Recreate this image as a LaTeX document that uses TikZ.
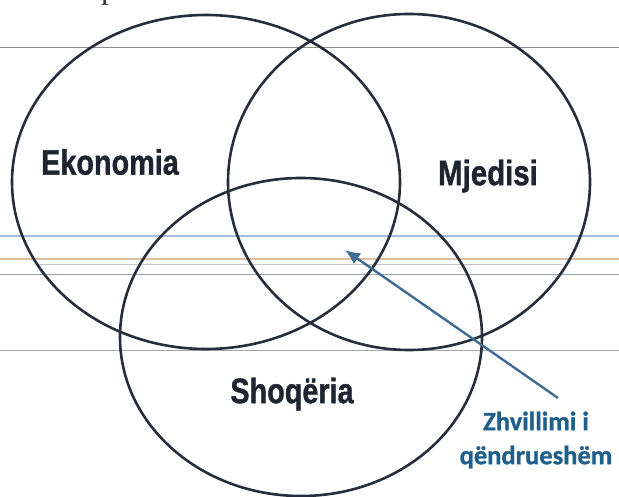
\documentclass[tikz,border=0pt]{standalone}
\usepackage{fontspec}
\usepackage{graphicx}
\setmainfont{Liberation Sans}
\newfontfamily\heavysans[BoldFeatures={FakeBold=1.2}]{Liberation Sans}
\newfontfamily\serifcut{Liberation Serif}
\newfontfamily\labfont[BoldFeatures={FakeBold=1.0}]{Carlito}
\usetikzlibrary{arrows.meta}
\definecolor{circ}{RGB}{38,46,60}
\definecolor{txtdark}{RGB}{30,37,48}
\definecolor{lblblue}{RGB}{31,95,140}
\definecolor{arrblue}{RGB}{62,108,148}
\definecolor{lgray}{RGB}{140,140,140}
\definecolor{lblue}{RGB}{160,188,222}
\definecolor{lorange}{RGB}{218,190,165}
\definecolor{lpink}{RGB}{205,196,196}
\definecolor{lslate}{RGB}{150,160,175}
\definecolor{lgray2}{RGB}{165,165,178}
\tikzset{
  setcircle/.style={draw=circ, line width=2.6pt},
  setlabel/.style={text=txtdark, font=\heavysans\bfseries\fontsize{30}{34}\selectfont, inner sep=0pt},
  rule/.style={line width=1.3pt},
  callout/.style={text=lblblue, font=\labfont\bfseries\fontsize{26.5}{34}\selectfont, align=center, inner sep=0pt},
  pointer/.style={draw=arrblue, line width=2.4pt, -{Latex[length=15pt,width=13pt]}}
}
\begin{document}
\begin{tikzpicture}[x=1pt,y=-1pt]
\useasboundingbox (0,0) rectangle (619,497);
% ruled lines of the scanned page
\draw[rule, lgray] (0,47.5) -- (619,47.5);
\draw[rule, lblue] (0,236) -- (619,236);
\draw[rule, lorange] (0,259) -- (619,259);
\draw[rule, lpink] (38,264.3) -- (562,264.3);
\draw[rule, lslate] (0,274.3) -- (619,274.3);
\draw[rule, lgray2] (0,350.5) -- (619,350.5);
% cut-off text line above
\node[anchor=base, inner sep=0pt, text=black!80, font=\serifcut\fontsize{32}{36}\selectfont] (cuttext) at (109,-1.5) {p};
% the three sets
\coordinate (ceko) at (206,182);
\coordinate (cmje) at (409,182);
\coordinate (csho) at (301,337);
\draw[setcircle] (ceko) ellipse [x radius=194, y radius=167];
\draw[setcircle] (cmje) ellipse [x radius=181, y radius=168];
\draw[setcircle] (csho) ellipse [x radius=181, y radius=159];
% labels
\node[setlabel] (eko) at (110,162) {\scalebox{0.96}[1.18]{Ekonomia}};
\node[setlabel] (mje) at (488,176) {\scalebox{0.98}[1.18]{Mjedisi}};
\node[setlabel] (sho) at (292,394) {\scalebox{0.96}[1.18]{Shoqëria}};
\node[callout] (zhv) at (536,440) {Zhvillimi i\\qëndrueshëm};
% arrow
\coordinate (arrtail) at (558,398);
\coordinate (arrtip) at (345,250);
\draw[pointer] (arrtail) -- (arrtip);
\end{tikzpicture}
\end{document}
